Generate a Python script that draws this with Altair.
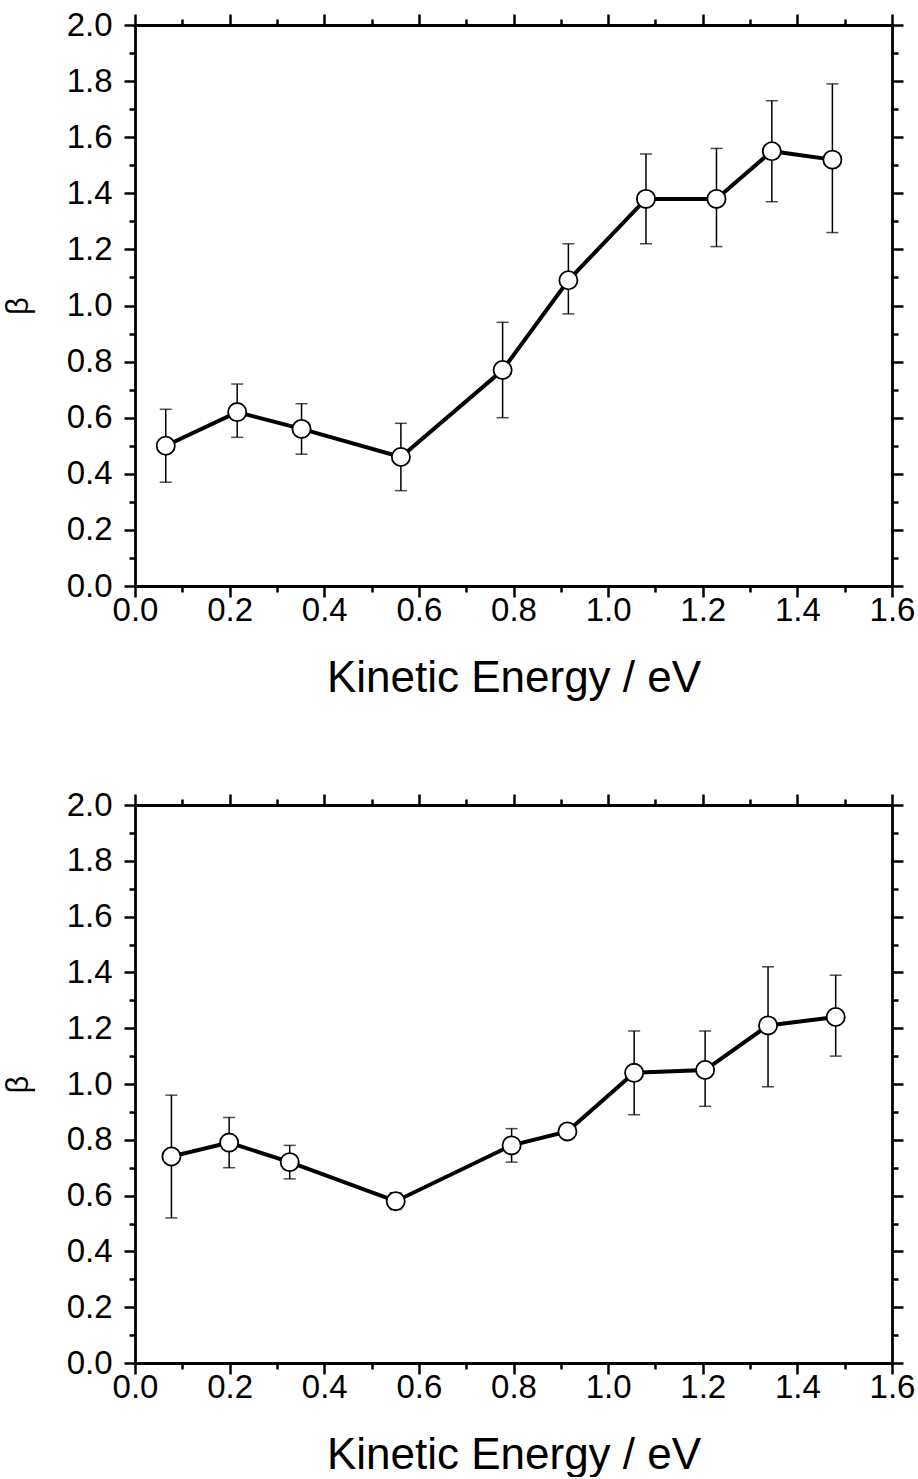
import altair as alt
import pandas as pd

# ---- data ----
top_energy = [0.065, 0.216, 0.352, 0.562, 0.777, 0.916, 1.080, 1.229, 1.346, 1.474]
top_beta   = [0.50, 0.62, 0.56, 0.46, 0.77, 1.09, 1.38, 1.38, 1.55, 1.52]
top_lo     = [0.37, 0.53, 0.47, 0.34, 0.60, 0.97, 1.22, 1.21, 1.37, 1.26]
top_hi     = [0.63, 0.72, 0.65, 0.58, 0.94, 1.22, 1.54, 1.56, 1.73, 1.79]

bot_energy = [0.077, 0.199, 0.327, 0.551, 0.796, 0.914, 1.055, 1.205, 1.338, 1.481]
bot_beta   = [0.74, 0.79, 0.72, 0.58, 0.78, 0.83, 1.04, 1.05, 1.21, 1.24]
bot_lo     = [0.52, 0.70, 0.66, 0.55, 0.72, None, 0.89, 0.92, 0.99, 1.10]
bot_hi     = [0.96, 0.88, 0.78, 0.61, 0.84, None, 1.19, 1.19, 1.42, 1.39]

x_ticks = [round(i * 0.1, 1) for i in range(17)]
y_ticks = [round(i * 0.1, 1) for i in range(21)]

FONT = "Liberation Sans"
major_test = "round(datum.value*10)%2==0"
tick_size = {"condition": {"test": major_test, "value": 11}, "value": 6}
label_expr = f"{major_test} ? format(datum.value, '.1f') : ''"


def axis_common(**kw):
    return alt.Axis(
        values=kw.pop("values"),
        tickSize=tick_size,
        tickWidth=2.5,
        tickColor="black",
        domainColor="black",
        domainWidth=2.8,
        grid=False,
        labelOverlap=False,
        labelFlush=False,
        **kw,
    )


def panel(energy, beta, lo, hi, h):
    df = pd.DataFrame({"energy": energy, "beta": beta, "lo": lo, "hi": hi})
    xs = alt.Scale(domain=[0, 1.6], nice=False, zero=False)
    ys = alt.Scale(domain=[0, 2.0], nice=False, zero=False)

    x_bottom = axis_common(
        values=x_ticks, orient="bottom", labelExpr=label_expr,
        labelFont=FONT, labelFontSize=33, labelColor="black", labelPadding=-3,
        title="Kinetic Energy / eV", titleFont=FONT, titleFontSize=44,
        titleFontWeight="normal", titleColor="black", titlePadding=29,
    )
    y_left = axis_common(
        values=y_ticks, orient="left", labelExpr=label_expr,
        labelFont=FONT, labelFontSize=33, labelColor="black", labelPadding=12,
        title="β", titleFont=FONT, titleFontSize=31,
        titleFontWeight="normal", titleColor="black", titlePadding=32,
    )
    x_top = axis_common(values=x_ticks, orient="top", labels=False, title=None)
    y_right = axis_common(values=y_ticks, orient="right", labels=False, title=None)

    X = alt.X("energy:Q", scale=xs, axis=x_bottom)
    base = alt.Chart(df)

    bars = base.transform_filter("isValid(datum.lo)").mark_rule(
        color="black", strokeWidth=1.5
    ).encode(x=X, y=alt.Y("lo:Q", scale=ys, axis=y_left), y2="hi:Q")

    caps = base.transform_filter("isValid(datum.lo)").transform_fold(
        ["lo", "hi"], as_=["k", "v"]
    ).mark_tick(orient="horizontal", size=12, thickness=1.5, color="black").encode(
        x=X, y=alt.Y("v:Q", scale=ys, axis=y_left)
    )

    line = base.mark_line(color="black", strokeWidth=4).encode(
        x=X, y=alt.Y("beta:Q", scale=ys, axis=y_left)
    )

    points = base.mark_point(
        shape="circle", filled=True, fill="white", stroke="black",
        strokeWidth=1.8, size=330, opacity=1,
    ).encode(x=X, y=alt.Y("beta:Q", scale=ys, axis=y_left))

    dummy = base.mark_point(opacity=0).encode(
        x=alt.X("energy:Q", scale=xs, axis=x_top),
        y=alt.Y("beta:Q", scale=ys, axis=y_right),
    )

    inner = alt.layer(bars, caps, line, points)
    return alt.layer(inner, dummy).resolve_axis(
        x="independent", y="independent"
    ).properties(width=757, height=h)


top = panel(top_energy, top_beta, top_lo, top_hi, 561)
bottom = panel(bot_energy, bot_beta, bot_lo, bot_hi, 558)

chart = alt.vconcat(top, bottom, spacing=89).properties(
    padding={"left": 2, "top": 9, "right": 0, "bottom": 0},
    background="white",
).configure_view(stroke=None)

chart.save("out.html", embed_options={"renderer": "svg", "actions": False})
